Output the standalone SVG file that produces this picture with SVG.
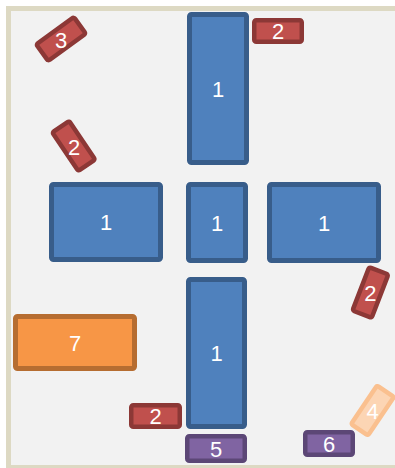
<svg xmlns="http://www.w3.org/2000/svg" width="395" height="468" viewBox="0 0 395 468">
<style>
.blue{fill:#4f81bd;stroke:#385d8a;stroke-width:5}
.red{fill:#c0504d;stroke:#8c3836;stroke-width:4.5}
.purple{fill:#8064a2;stroke:#5c4776;stroke-width:4.5}
.orange{fill:#f79646;stroke:#b66d31;stroke-width:5}
.lorange{fill:#fcd5b4;stroke:#fac08f;stroke-width:4.5}
text{font-family:"Liberation Sans",Arial,sans-serif;font-size:22px;fill:#ffffff;text-anchor:middle}
</style>
<rect x="0" y="0" width="395" height="468" fill="#ffffff"/>
<rect x="8.5" y="8.5" width="420" height="459" fill="#f2f2f2" stroke="#ddd9c3" stroke-width="5"/>
<g id="connectors"></g>
<g id="n1-top"><rect class="blue" x="189.5" y="14.5" width="57" height="148" rx="2"/><text x="218" y="96.5">1</text></g>
<g id="n1-left"><rect class="blue" x="51.5" y="184.5" width="109" height="75" rx="2"/><text x="106" y="230">1</text></g>
<g id="n1-center"><rect class="blue" x="188.5" y="184.5" width="57" height="76" rx="2"/><text x="217" y="230.5">1</text></g>
<g id="n1-right"><rect class="blue" x="269.5" y="184.5" width="109" height="76" rx="2"/><text x="324" y="230.5">1</text></g>
<g id="n1-bottom"><rect class="blue" x="188.5" y="279.5" width="56" height="147" rx="2"/><text x="216.5" y="361">1</text></g>
<g id="n2-top"><rect class="red" x="254.25" y="20.25" width="47.5" height="21.5" rx="2"/><text x="278" y="39">2</text></g>
<g id="n2-bottom"><rect class="red" x="131.25" y="405.25" width="48.5" height="21.5" rx="2"/><text x="155.5" y="424">2</text></g>
<g id="n3"><rect class="red" x="-23.25" y="-10.25" width="46.5" height="20.5" rx="2" transform="translate(61,39) rotate(-36)"/><text x="61" y="47.5">3</text></g>
<g id="n2-left"><rect class="red" x="-23.25" y="-10.25" width="46.5" height="20.5" rx="2" transform="translate(73.7,146) rotate(56)"/><text x="74" y="154.5">2</text></g>
<g id="n2-right"><rect class="red" x="-23.25" y="-10.25" width="46.5" height="20.5" rx="2" transform="translate(370.4,292.5) rotate(111)"/><text x="370.4" y="300.5">2</text></g>
<g id="n4"><rect class="lorange" x="-23.25" y="-10.25" width="46.5" height="20.5" rx="2" transform="translate(372.5,410.5) rotate(-56)"/><text x="372.5" y="418.5">4</text></g>
<g id="n5"><rect class="purple" x="187.25" y="436.25" width="57.5" height="24.5" rx="2"/><text x="216" y="456.5">5</text></g>
<g id="n6"><rect class="purple" x="305.25" y="432.25" width="47.5" height="22.5" rx="2"/><text x="329" y="451.5">6</text></g>
<g id="n7"><rect class="orange" x="15.5" y="316.5" width="119" height="52" rx="2"/><text x="75" y="350.5">7</text></g>
</svg>
